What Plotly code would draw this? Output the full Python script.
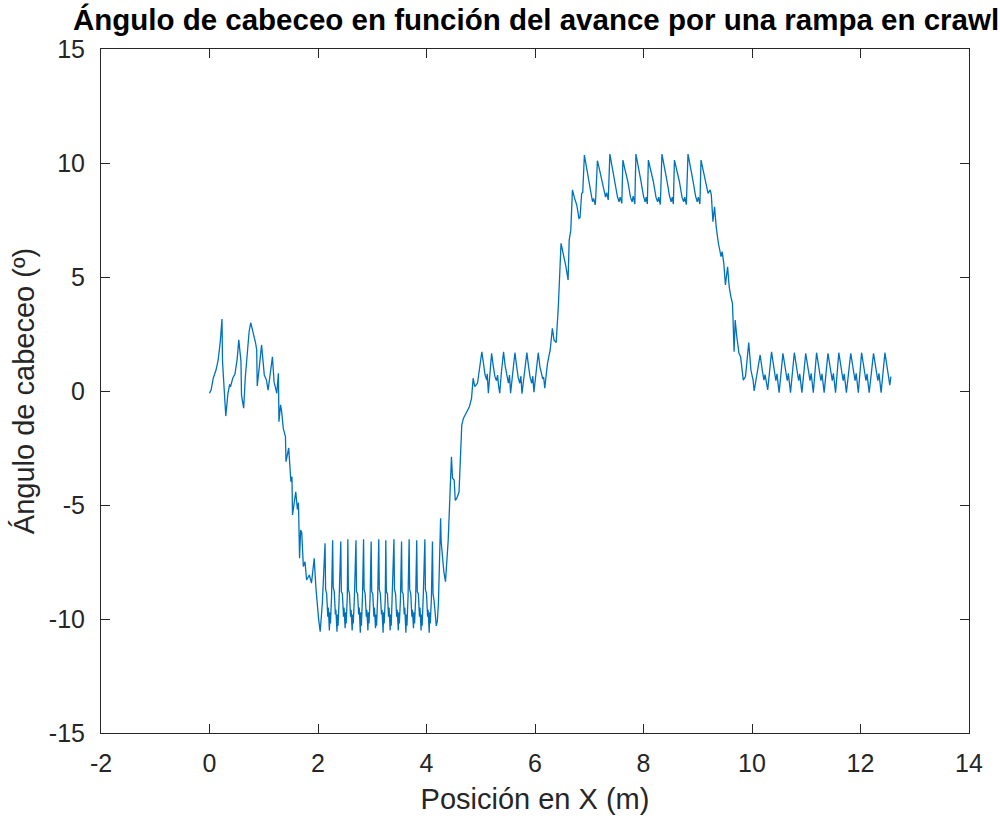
import plotly.graph_objects as go

# ---- data (x position in m, pitch angle in degrees) ----
x_start = [0.00, 0.03, 0.07, 0.12, 0.16, 0.20, 0.23, 0.24, 0.27, 0.30, 0.34, 0.37, 0.39, 0.43,
           0.47, 0.51, 0.54, 0.58, 0.59, 0.63, 0.66, 0.69, 0.73, 0.76, 0.81, 0.85, 0.87, 0.88,
           0.92, 0.96, 1.01, 1.05, 1.08, 1.12, 1.16, 1.19, 1.24, 1.27, 1.28]
y_start = [-0.10, 0.05, 0.57, 0.92, 1.36, 2.20, 3.16, 1.29, 0.10, -1.10, -0.10, 0.26, 0.22, 0.57,
           0.75, 1.40, 2.24, 1.29, -0.18, -0.75, 0.60, 1.58, 2.60, 3.00, 2.54, 2.10, 1.80, 0.22,
           1.10, 2.02, 0.70, 0.48, 0.04, 0.80, 1.50, 0.41, -0.10, 0.78, -1.35]

x_descent = [1.31, 1.33, 1.36, 1.40, 1.41, 1.46, 1.50, 1.52, 1.53, 1.59, 1.62, 1.64, 1.66, 1.68,
             1.70, 1.73, 1.76, 1.79, 1.84, 1.88, 1.93, 1.96, 2.01, 2.04, 2.08]
y_descent = [-0.61, -0.90, -1.64, -2.00, -3.10, -2.50, -3.98, -3.76, -5.44, -4.42, -5.20, -4.90,
             -7.34, -6.10, -6.20, -7.70, -7.49, -8.29, -8.07, -8.43, -7.34, -8.58, -9.97, -10.56, -9.31]

x_low = [2.13, 2.14, 2.16, 2.18, 2.19, 2.21, 2.22, 2.23, 2.25,
         2.27, 2.28, 2.30, 2.32, 2.33, 2.35, 2.36, 2.37, 2.39,
         2.42, 2.43, 2.45, 2.47, 2.48, 2.50, 2.51, 2.52, 2.54,
         2.55, 2.56, 2.58, 2.60, 2.61, 2.63, 2.64, 2.65, 2.67,
         2.70, 2.71, 2.73, 2.75, 2.76, 2.78, 2.79, 2.80, 2.82,
         2.84, 2.85, 2.87, 2.89, 2.90, 2.92, 2.93, 2.94, 2.96,
         2.98, 2.99, 3.01, 3.03, 3.04, 3.06, 3.07, 3.08, 3.10,
         3.12, 3.13, 3.15, 3.17, 3.18, 3.20, 3.21, 3.22, 3.24,
         3.25, 3.26, 3.28, 3.30, 3.31, 3.33, 3.34, 3.35, 3.37,
         3.40, 3.41, 3.43, 3.45, 3.46, 3.48, 3.49, 3.50, 3.52,
         3.54, 3.55, 3.57, 3.59, 3.60, 3.62, 3.63, 3.64, 3.66,
         3.68, 3.69, 3.71, 3.73, 3.74, 3.76, 3.77, 3.78, 3.80,
         3.82, 3.83, 3.85, 3.87, 3.88, 3.90, 3.91, 3.92, 3.94,
         3.97, 3.98, 4.00, 4.02, 4.03, 4.05, 4.06, 4.07, 4.09,
         4.11, 4.12, 4.14, 4.16, 4.18, 4.20, 4.22]
y_low = [-6.68, -8.7, -8.9, -9.9, -9.5, -10.5, -9.7, -10.2, -9.0,
         -6.55, -8.6, -8.8, -9.8, -9.6, -10.56, -9.8, -10.3, -9.1,
         -6.60, -8.8, -8.9, -9.9, -9.5, -10.4, -9.7, -10.2, -9.0,
         -6.50, -8.7, -8.9, -9.9, -9.6, -10.5, -9.8, -10.2, -9.1,
         -6.55, -8.8, -8.9, -9.8, -9.5, -10.6, -9.7, -10.3, -9.0,
         -6.50, -8.7, -8.9, -9.9, -9.6, -10.5, -9.7, -10.2, -9.1,
         -6.60, -8.8, -8.9, -9.9, -9.5, -10.4, -9.8, -10.3, -9.0,
         -6.50, -8.7, -8.9, -9.8, -9.6, -10.6, -9.7, -10.2, -9.1,
         -6.55, -8.8, -8.9, -9.9, -9.5, -10.5, -9.8, -10.3, -9.0,
         -6.50, -8.7, -8.9, -9.9, -9.6, -10.5, -9.7, -10.2, -9.1,
         -6.60, -8.8, -8.9, -9.8, -9.5, -10.6, -9.8, -10.3, -9.0,
         -6.50, -8.7, -8.9, -9.9, -9.6, -10.4, -9.7, -10.2, -9.1,
         -6.55, -8.8, -8.9, -9.9, -9.5, -10.5, -9.8, -10.3, -9.0,
         -6.50, -8.7, -8.9, -9.9, -9.6, -10.6, -9.7, -10.2, -9.1,
         -6.60, -8.9, -9.2, -10.0, -10.3, -10.1, -9.3]

x_ascent1 = [4.26, 4.27, 4.32, 4.35, 4.40, 4.46, 4.48, 4.51, 4.53, 4.56, 4.60, 4.65, 4.68,
             4.74, 4.79, 4.83, 4.86, 4.89, 4.94]
y_ascent1 = [-5.58, -6.60, -7.93, -8.36, -6.54, -2.88, -3.83, -3.90, -4.80, -4.70, -4.42, -1.49,
             -1.20, -0.91, -0.69, -0.32, 0.56, 0.19, 0.34]

x_mid = [5.02, 5.05, 5.08, 5.11, 5.12, 5.14, 5.17,
         5.20, 5.23, 5.26, 5.29, 5.31, 5.33, 5.35, 5.38,
         5.42, 5.45, 5.48, 5.51, 5.53, 5.55, 5.59,
         5.63, 5.66, 5.69, 5.72, 5.74, 5.76, 5.80,
         5.85, 5.88, 5.91, 5.94, 5.96, 5.98, 6.02,
         6.06, 6.09, 6.12, 6.14, 6.16, 6.18]
y_mid = [1.72, 1.21, 0.70, 0.48, 0.75, -0.10, 0.70,
         1.65, 1.10, 0.65, 0.45, 0.70, 0.20, -0.10, 0.80,
         1.72, 1.10, 0.65, 0.34, 0.70, -0.10, 0.80,
         1.68, 1.10, 0.60, 0.34, 0.65, -0.12, 0.80,
         1.68, 1.10, 0.60, 0.34, 0.65, -0.05, 0.80,
         1.68, 1.07, 0.70, 0.56, 0.60, 0.12]

x_ascent2 = [6.23, 6.28, 6.32, 6.35, 6.39, 6.43, 6.48, 6.52, 6.57, 6.61, 6.63, 6.66, 6.69, 6.73,
             6.77, 6.81, 6.83, 6.86, 6.88]
y_ascent2 = [1.21, 1.80, 2.75, 2.24, 2.12, 3.70, 6.48, 6.04, 5.45, 4.87, 6.62, 7.06, 8.82, 8.45,
             8.16, 7.57, 7.60, 8.67, 8.70]

x_high = [6.91, 6.95, 6.99, 7.03, 7.06, 7.08, 7.11, 7.12,
          7.15, 7.19, 7.23, 7.28, 7.30, 7.32, 7.35,
          7.38, 7.42, 7.47, 7.52, 7.55, 7.57, 7.60,
          7.62, 7.66, 7.71, 7.76, 7.79, 7.81, 7.84,
          7.86, 7.90, 7.95, 8.00, 8.03, 8.05, 8.07,
          8.09, 8.13, 8.18, 8.23, 8.26, 8.28, 8.31,
          8.34, 8.38, 8.43, 8.48, 8.51, 8.53, 8.55,
          8.57, 8.61, 8.66, 8.71, 8.74, 8.76, 8.79,
          8.82, 8.86, 8.91, 8.96, 8.99, 9.01, 9.04]
y_high = [10.35, 9.84, 9.33, 8.67, 8.30, 8.45, 8.16, 8.50,
          10.10, 9.70, 9.25, 8.70, 8.50, 8.70, 8.38,
          10.39, 9.80, 9.25, 8.52, 8.30, 8.50, 8.23,
          10.13, 9.70, 9.20, 8.50, 8.30, 8.55, 8.20,
          10.39, 9.80, 9.25, 8.55, 8.30, 8.50, 8.20,
          10.13, 9.70, 9.20, 8.50, 8.30, 8.50, 8.18,
          10.39, 9.80, 9.25, 8.55, 8.30, 8.50, 8.20,
          10.13, 9.70, 9.20, 8.50, 8.30, 8.50, 8.18,
          10.39, 9.80, 9.25, 8.55, 8.30, 8.50, 8.20]

x_descent2 = [9.06, 9.10, 9.15, 9.19, 9.23, 9.25, 9.28, 9.31, 9.34, 9.38, 9.43, 9.45, 9.48, 9.51,
              9.55, 9.58, 9.61, 9.64, 9.67, 9.69, 9.72, 9.76, 9.79, 9.84, 9.88]
y_descent2 = [10.13, 9.69, 9.18, 8.67, 8.82, 8.60, 7.43, 8.08, 7.20, 6.48, 5.89, 6.11, 5.60, 4.65,
              5.45, 4.57, 4.14, 3.85, 1.72, 3.11, 2.38, 1.65, 1.50, 0.48, 0.63]

x_end = [9.94, 9.98, 10.02, 10.04, 10.08,
         10.15, 10.19, 10.22, 10.24, 10.27, 10.29,
         10.36, 10.41, 10.44, 10.46, 10.48, 10.50,
         10.57, 10.62, 10.65, 10.67, 10.69, 10.71,
         10.78, 10.83, 10.86, 10.88, 10.90, 10.92,
         10.99, 11.04, 11.07, 11.09, 11.11, 11.13,
         11.19, 11.24, 11.27, 11.29, 11.31, 11.33,
         11.40, 11.45, 11.48, 11.50, 11.52, 11.54,
         11.60, 11.65, 11.68, 11.70, 11.72, 11.74,
         11.82, 11.87, 11.90, 11.92, 11.94, 11.96,
         12.02, 12.07, 12.10, 12.12, 12.14, 12.16,
         12.24, 12.29, 12.32, 12.34, 12.36, 12.38,
         12.45, 12.50, 12.53, 12.54, 12.56]
y_end = [2.12, 0.92, 0.48, 0.00, 0.60,
         1.58, 0.90, 0.48, 0.72, 0.30, 0.05,
         1.72, 0.85, 0.45, 0.75, 0.25, -0.07,
         1.65, 0.85, 0.45, 0.78, 0.25, -0.07,
         1.68, 0.85, 0.45, 0.75, 0.25, -0.07,
         1.65, 0.85, 0.45, 0.78, 0.25, -0.07,
         1.68, 0.85, 0.45, 0.75, 0.25, -0.07,
         1.65, 0.85, 0.45, 0.78, 0.25, -0.07,
         1.68, 0.85, 0.45, 0.75, 0.25, -0.07,
         1.65, 0.85, 0.45, 0.78, 0.25, -0.07,
         1.68, 0.85, 0.45, 0.75, 0.25, -0.07,
         1.65, 0.85, 0.45, 0.78, 0.25, -0.07,
         1.68, 0.85, 0.30, 0.26, 0.63]

x_ticks = [-2, 0, 2, 4, 6, 8, 10, 12, 14]
x_tick_text = ["-2", "0", "2", "4", "6", "8", "10", "12", "14"]
y_ticks = [-15, -10, -5, 0, 5, 10, 15]
y_tick_text = ["-15", "-10", "-5", "0", "5", "10", "15"]

title_text = "Ángulo de cabeceo en función del avance por una rampa en crawl"
x_label = "Posición en X (m)"
y_label = "Ángulo de cabeceo (º)"

x_all = x_start + x_descent + x_low + x_ascent1 + x_mid + x_ascent2 + x_high + x_descent2 + x_end
y_all = y_start + y_descent + y_low + y_ascent1 + y_mid + y_ascent2 + y_high + y_descent2 + y_end

FONT = "Liberation Sans, Arial, Helvetica, sans-serif"
AX = "#262626"

fig = go.Figure()
fig.add_trace(go.Scatter(x=x_all, y=y_all, mode="lines",
                         line=dict(color="#0072BD", width=1.3), showlegend=False))

axis_common = dict(showline=True, linecolor=AX, linewidth=1, mirror="ticks",
                   ticks="inside", ticklen=9, tickcolor=AX, tickwidth=1,
                   showgrid=False, zeroline=False,
                   tickfont=dict(family=FONT, size=25, color=AX))

fig.update_layout(
    width=1000, height=819,
    margin=dict(l=101, r=31, t=49, b=86, autoexpand=False),
    paper_bgcolor="white", plot_bgcolor="white",
    title=dict(text=title_text, x=0.536, xanchor="center", xref="container",
               y=1 - 20 / 819, yanchor="middle", yref="container",
               font=dict(family=FONT, size=29.5, color="black", weight="bold")),
    xaxis=dict(range=[-2, 14], tickvals=x_ticks, ticktext=x_tick_text,
               title=dict(text=x_label, font=dict(family=FONT, size=29, color=AX), standoff=12),
               ticklabelstandoff=8, **axis_common),
    yaxis=dict(range=[-15, 15], tickvals=y_ticks, ticktext=y_tick_text,
               title=dict(text=y_label, font=dict(family=FONT, size=29, color=AX), standoff=5),
               ticklabelstandoff=10, **axis_common),
)

fig.write_html("out.html")
